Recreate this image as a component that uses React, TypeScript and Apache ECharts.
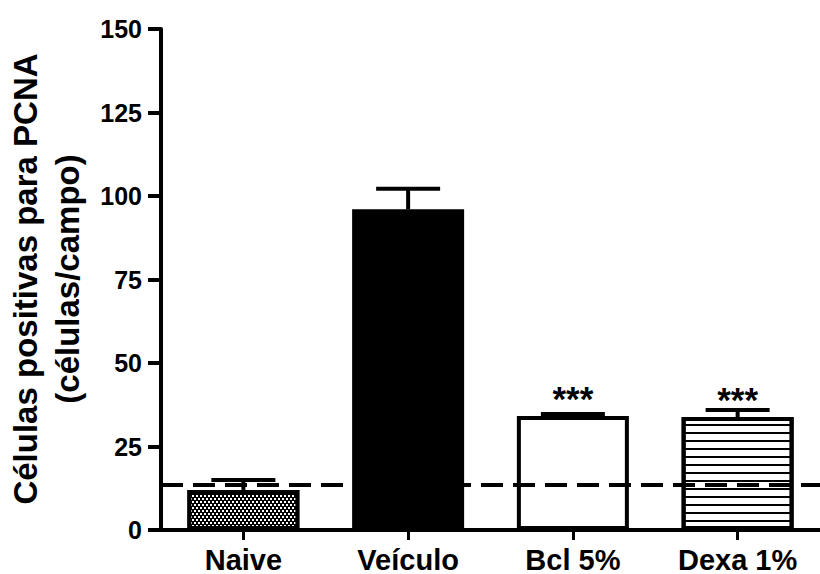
import React, { useEffect, useRef } from "react";
import * as echarts from "echarts";

const categories = ["Naive", "Veículo", "Bcl 5%", "Dexa 1%"];
const means = [12, 96, 34.1, 33.8];
const errors = [3, 6.2, 0.6, 2.1];
const marks = ["", "", "***", "***"];
const baselineValue = 13.4;
const yAxisTitle = "Células positivas para PCNA\n(células/campo)";

const FONT = "Liberation Sans, Arial, sans-serif";

export default function App() {
  const ref = useRef<HTMLDivElement>(null);
  useEffect(() => {
    if (!ref.current) return;
    const chart = echarts.init(ref.current, null, { renderer: "svg" });
    const barStyles = [
      {
        color: "#000",
        borderColor: "#000",
        borderWidth: 4,
        decal: {
          symbol: "rect",
          symbolSize: 1,
          color: "#fff",
          dashArrayX: [[2, 2], [0, 2, 2, 0]],
          dashArrayY: [2, 1],
          rotation: 0,
        },
      },
      { color: "#000", borderColor: "#000", borderWidth: 4 },
      { color: "#fff", borderColor: "#000", borderWidth: 4 },
      {
        color: "#fff",
        borderColor: "#000",
        borderWidth: 4,
        decal: {
          symbol: "rect",
          symbolSize: 1,
          color: "#000",
          dashArrayX: [1, 0],
          dashArrayY: [2, 6],
          rotation: 0,
        },
      },
    ];
    chart.setOption({
      animation: false,
      backgroundColor: "#fff",
      grid: { left: 161, right: -6, top: 29, bottom: 43, containLabel: false },
      xAxis: {
        type: "category",
        data: categories,
        boundaryGap: true,
        axisLine: { show: true, lineStyle: { color: "#000", width: 4 } },
        axisTick: { show: true, alignWithLabel: true, length: 10, lineStyle: { color: "#000", width: 3 } },
        axisLabel: { color: "#000", fontSize: 29, fontWeight: "bold", fontFamily: FONT, margin: 15 },
        splitLine: { show: false },
      },
      yAxis: {
        type: "value",
        min: 0,
        max: 150,
        interval: 25,
        axisLine: { show: true, lineStyle: { color: "#000", width: 4 } },
        axisTick: { show: true, length: 13, lineStyle: { color: "#000", width: 4 } },
        axisLabel: { color: "#000", fontSize: 25, fontWeight: "bold", fontFamily: FONT, margin: 19 },
        splitLine: { show: false },
      },
      graphic: [
        {
          type: "text",
          x: 46,
          y: 279,
          rotation: Math.PI / 2,
          style: {
            text: yAxisTitle,
            fill: "#000",
            fontSize: 33,
            fontWeight: "bold",
            fontFamily: FONT,
            align: "center",
            verticalAlign: "middle",
            textAlign: "center",
            textVerticalAlign: "middle",
            lineHeight: 42,
          },
        },
      ],
      series: [
        {
          type: "bar",
          barWidth: 112,
          data: means.map((v, i) => ({ value: v, itemStyle: barStyles[i] })),
          label: {
            show: true,
            position: "top",
            distance: 0,
            offset: [0, 0],
            formatter: (p: any) => marks[p.dataIndex],
            color: "#000",
            fontSize: 35,
            fontWeight: "bold",
            fontFamily: FONT,
          },
          markLine: {
            silent: true,
            symbol: "none",
            label: { show: false },
            lineStyle: { color: "#000", width: 4, type: [22, 10] },
            data: [{ yAxis: baselineValue }],
          },
          z: 2,
        },
        {
          type: "custom",
          z: 3,
          clip: false,
          data: means.map((v, i) => [i, v, errors[i]]),
          encode: { x: 0, y: 1 },
          renderItem: (params: any, api: any) => {
            const xi = api.value(0);
            const v = api.value(1);
            const e = api.value(2);
            const base = api.coord([xi, v]);
            const top = api.coord([xi, v + e]);
            const half = 32;
            const style = { stroke: "#000", lineWidth: 4 };
            return {
              type: "group",
              children: [
                { type: "line", shape: { x1: base[0], y1: base[1], x2: top[0], y2: top[1] }, style },
                { type: "line", shape: { x1: top[0] - half, y1: top[1], x2: top[0] + half, y2: top[1] }, style },
              ],
            };
          },
        },
      ],
    });
    return () => chart.dispose();
  }, []);
  return <div ref={ref} style={{ position: "fixed", left: 0, top: 0, width: 820, height: 574 }} />;
}
